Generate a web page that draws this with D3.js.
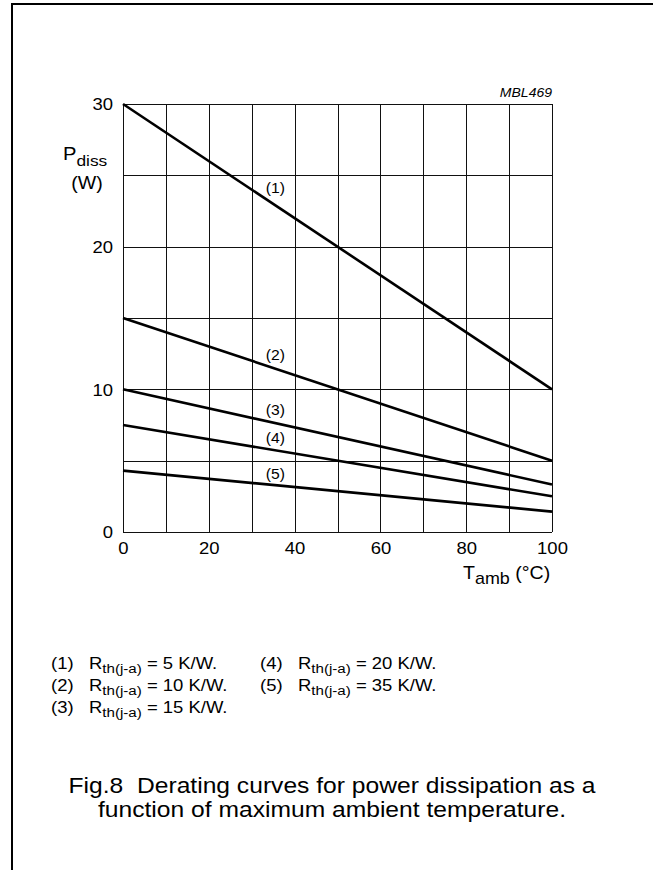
<!DOCTYPE html>
<html>
<head>
<meta charset="utf-8">
<script src="https://cdn.jsdelivr.net/npm/d3@7"></script>
<style>
  html, body { margin: 0; padding: 0; background: #fff; }
  svg { display: block; }
  text { font-family: "Liberation Sans", Arial, Helvetica, sans-serif; fill: #000; white-space: pre; }
</style>
</head>
<body>
<svg id="chart" width="653" height="870"></svg>
<script>
// Ambient temperature endpoints (°C) and power dissipation (W) per curve
const tAmb = [0, 100];
const curve1 = [30, 10];
const curve2 = [15, 5];
const curve3 = [10, 3.33];
const curve4 = [7.5, 2.5];
const curve5 = [4.3, 1.43];
const curves = [curve1, curve2, curve3, curve4, curve5];
const curveNames = ["(1)", "(2)", "(3)", "(4)", "(5)"];
const rthValues = [5, 10, 15, 20, 35];

const xTicks = [0, 20, 40, 60, 80, 100];
const yTicks = [0, 10, 20, 30];
const xGrid = [0, 10, 20, 30, 40, 50, 60, 70, 80, 90, 100];
const yGrid = [0, 5, 10, 15, 20, 25, 30];

// the typeface is set slightly wide
const SX = 1.12;

const svg = d3.select("#chart");

function addText(parent, x, y, size, anchor) {
  return parent.append("text")
    .attr("transform", `translate(${x},${y}) scale(${SX},1)`)
    .attr("font-size", size)
    .attr("text-anchor", anchor || "start");
}

// page frame (top and left rules)
svg.append("path")
  .attr("d", "M12,870V4H653")
  .attr("fill", "none")
  .attr("stroke", "#000")
  .attr("stroke-width", 2);

const x = d3.scaleLinear().domain([0, 100]).range([123, 552]);
const y = d3.scaleLinear().domain([0, 30]).range([532, 104]);

// grid
const grid = svg.append("g").attr("stroke", "#111").attr("stroke-width", 1.1).attr("shape-rendering", "crispEdges");
grid.selectAll("line.v").data(xGrid).join("line")
  .attr("x1", d => Math.round(x(d)) + 0.5).attr("x2", d => Math.round(x(d)) + 0.5)
  .attr("y1", y(0)).attr("y2", y(30));
grid.selectAll("line.h").data(yGrid).join("line")
  .attr("y1", d => Math.round(y(d)) + 0.5).attr("y2", d => Math.round(y(d)) + 0.5)
  .attr("x1", x(0)).attr("x2", x(100));

// axes (labels only; the grid carries the ticks)
const xAxis = d3.axisBottom(x).tickValues(xTicks).tickSize(0).tickPadding(0);
const gx = svg.append("g").attr("transform", `translate(0,${y(0)})`).call(xAxis);
gx.select(".domain").remove();
gx.selectAll("text").attr("font-size", 16.5).attr("dy", "1.35em")
  .attr("transform", `scale(${SX},1)`)
  .style("font-family", "'Liberation Sans', Arial, sans-serif");

const yAxis = d3.axisLeft(y).tickValues(yTicks).tickSize(0).tickPadding(9);
const gy = svg.append("g").attr("transform", `translate(${x(0)},0)`).call(yAxis);
gy.select(".domain").remove();
gy.selectAll("text").attr("font-size", 16.5).attr("dy", "0.36em")
  .attr("transform", `scale(${SX},1)`)
  .style("font-family", "'Liberation Sans', Arial, sans-serif");

// derating curves
const line = d3.line().x((d, i) => x(tAmb[i])).y(d => y(d));
svg.append("g").selectAll("path").data(curves).join("path")
  .attr("d", d => line(d))
  .attr("fill", "none")
  .attr("stroke", "#000")
  .attr("stroke-width", 2.6);

// curve labels
const labelT = 35.5;
const labelOffset = [-12, -9, -8.5, -7.5, -6.5];
curves.forEach((d, i) => {
  addText(svg, x(labelT), y(d[0] + (d[1] - d[0]) * labelT / 100) + labelOffset[i], 14, "middle")
    .text(curveNames[i]);
});

// axis titles
const yt = addText(svg, 63, 160, 18);
yt.append("tspan").text("P");
yt.append("tspan").attr("dy", 6).attr("font-size", 15.5).text("diss");
addText(svg, 87, 189, 17.5, "middle").text("(W)");

const xt = addText(svg, 463, 579, 17.5);
xt.append("tspan").text("T");
xt.append("tspan").attr("dy", 5).attr("font-size", 16).text("amb");
xt.append("tspan").attr("dy", -5).text(" (\u00B0C)");

addText(svg, 552, 97, 12.5, "end").attr("font-style", "italic").text("MBL469");

// legend
const legendRows = [0, 1, 2, 0, 1];
const legendCols = [0, 0, 0, 1, 1];
rthValues.forEach((r, i) => {
  const lx = legendCols[i] === 0 ? 51 : 260;
  const ly = 669 + legendRows[i] * 22;
  addText(svg, lx, ly, 16.5).text(curveNames[i]);
  const t = addText(svg, lx + 38, ly, 16.5);
  t.append("tspan").text("R");
  t.append("tspan").attr("dy", 4).attr("font-size", 13.5).text("th(j-a)");
  t.append("tspan").attr("dy", -4).text(` = ${r} K/W.`);
});

// caption
addText(svg, 332, 793, 22, "middle").text("Fig.8  Derating curves for power dissipation as a");
addText(svg, 332, 817, 22, "middle").text("function of maximum ambient temperature.");
</script>
</body>
</html>
